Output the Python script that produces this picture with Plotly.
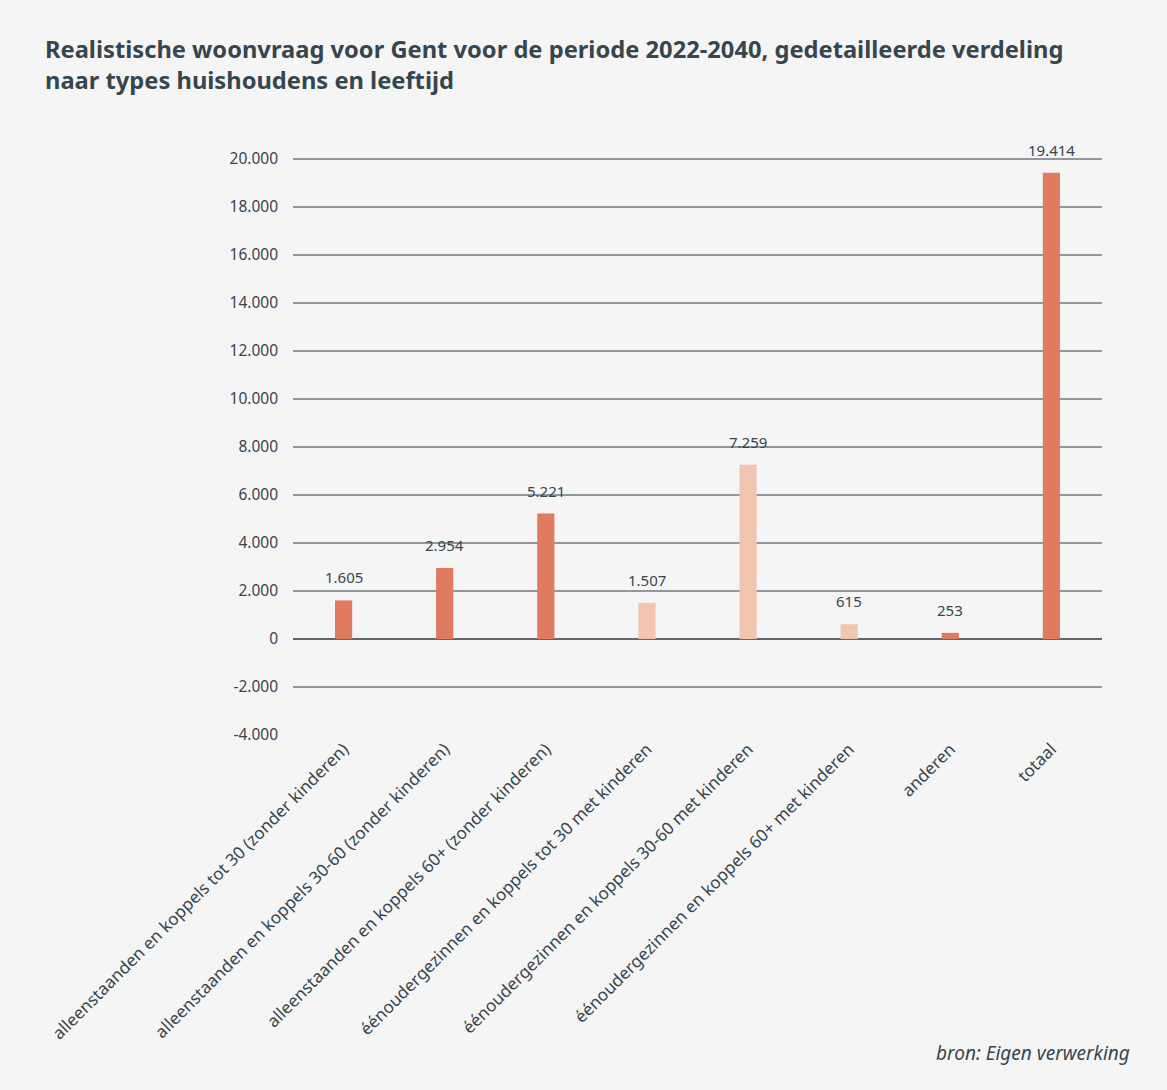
import plotly.graph_objects as go

categories = [
    "alleenstaanden en koppels tot 30 (zonder kinderen)",
    "alleenstaanden en koppels 30-60 (zonder kinderen)",
    "alleenstaanden en koppels 60+ (zonder kinderen)",
    "éénoudergezinnen en koppels tot 30 met kinderen",
    "éénoudergezinnen en koppels 30-60 met kinderen",
    "éénoudergezinnen en koppels 60+ met kinderen",
    "anderen",
    "totaal",
]
values = [1605, 2954, 5221, 1507, 7259, 615, 253, 19414]
groups = ["zonder", "zonder", "zonder", "met", "met", "met", "overig", "overig"]

tick_values = list(range(-4000, 20001, 2000))

DARK = "#E07B5F"
LIGHT = "#F2C5B1"
TEXT = "#36464e"
FONT = "Noto Sans"

bar_colors = [LIGHT if g == "met" else DARK for g in groups]


def fmt(v):
    return f"{v:,}".replace(",", ".")


fig = go.Figure(
    go.Bar(
        x=categories,
        y=values,
        marker=dict(color=bar_colors, line=dict(width=0)),
        width=0.17,
        cliponaxis=False,
        hoverinfo="x+y",
    )
)

# value labels above each bar
value_labels = [
    dict(
        x=c,
        y=v,
        text=fmt(v),
        xref="x",
        yref="y",
        yanchor="bottom",
        yshift=11,
        showarrow=False,
        font=dict(family=FONT, size=15, color=TEXT),
    )
    for c, v in zip(categories, values)
]

fig.update_layout(
    width=1167,
    height=1090,
    paper_bgcolor="#f5f5f5",
    plot_bgcolor="#f5f5f5",
    margin=dict(l=293, r=65, t=154.2, b=355),
    separators=",.",
    font=dict(family=FONT, size=15, color=TEXT),
    showlegend=False,
    title=dict(
        text="Realistische woonvraag voor Gent voor de periode 2022-2040, gedetailleerde verdeling<br>naar types huishoudens en leeftijd",
        x=45 / 1167,
        xanchor="left",
        y=1 - 58 / 1090,
        yanchor="top",
        font=dict(family=FONT, size=23.7, color=TEXT, weight="bold"),
    ),
    annotations=value_labels
    + [
        dict(
            text="<i>bron: Eigen verwerking</i>",
            xref="paper",
            yref="paper",
            x=1 + 30 / (1167 - 293 - 65),
            y=-(1068 - 735) / (735 - 154.2),
            xanchor="right",
            yanchor="bottom",
            showarrow=False,
            font=dict(family=FONT, size=19, color=TEXT),
        )
    ],
)

fig.update_xaxes(
    tickangle=-45,
    tickfont=dict(family=FONT, size=17, color=TEXT),
    showgrid=False,
    showline=False,
    ticks="",
)

fig.update_yaxes(
    range=[-4000, 20200],
    tickvals=tick_values,
    ticktext=[fmt(v) for v in tick_values],
    tickfont=dict(family=FONT, size=15.5, color=TEXT),
    showgrid=True,
    gridcolor="#8e989d",
    gridwidth=1.5,
    zeroline=True,
    zerolinecolor="#5c686e",
    zerolinewidth=2,
    showline=False,
    ticks="",
    ticklabelstandoff=14,
)

fig.write_html("out.html")
